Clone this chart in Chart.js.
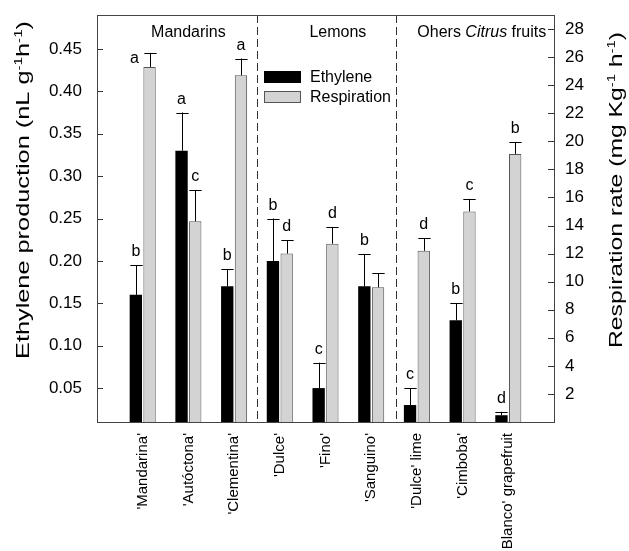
<!DOCTYPE html>
<html>
<head>
<meta charset="utf-8">
<script src="https://cdn.jsdelivr.net/npm/chart.js@4.4.1/dist/chart.umd.min.js"></script>
<style>
  html, body { margin: 0; padding: 0; background: #fff; }
  canvas { display: block; }
</style>
</head>
<body>
<canvas id="citrusChart" width="629" height="551"></canvas>
<script>
const cultivars = ["'Mandarina'", "'Autóctona'", "'Clementina'", "'Dulce'", "'Fino'", "'Sanguino'", "'Dulce' lime", "'Cimboba'", "Blanco' grapefruit"];
const ethylene = [0.16, 0.33, 0.17, 0.20, 0.05, 0.17, 0.03, 0.13, 0.018];
const ethyleneErr = [0.035, 0.045, 0.02, 0.05, 0.03, 0.038, 0.02, 0.02, 0.004];
const ethyleneLetters = ['b', 'a', 'b', 'b', 'c', 'b', 'c', 'b', 'd'];
const respiration = [25.3, 14.3, 24.7, 12.0, 12.7, 9.6, 12.2, 15.0, 19.1];
const respirationErr = [1.0, 2.2, 1.2, 0.95, 1.2, 1.0, 0.9, 0.9, 0.85];
const respirationLetters = ['a', 'c', 'a', 'd', 'd', '', 'd', 'c', 'b'];
const ethyleneTicks = [0.05, 0.10, 0.15, 0.20, 0.25, 0.30, 0.35, 0.40, 0.45];
const respirationTicks = [2, 4, 6, 8, 10, 12, 14, 16, 18, 20, 22, 24, 26, 28];
const groupNames = [['Mandarins'], ['Lemons'], ['Ohers ', 'Citrus', ' fruits']];

const FONT = "'Liberation Sans', Arial, sans-serif";

// empty slot at each end so the bars sit half a slot in from the frame
const labels = [''].concat(cultivars, ['']);
const pad = arr => [null].concat(arr, [null]);

// draws text made of runs, rotated to read bottom-to-top, stretched to a length
function drawRotatedRuns(ctx, runs, cx, cy, size, targetLen) {
  const supSize = size * 0.6;
  let total = 0;
  runs.forEach(r => {
    ctx.font = (r.sup ? supSize : size) + 'px ' + FONT;
    r.w = ctx.measureText(r.t).width;
    total += r.w;
  });
  ctx.save();
  ctx.translate(cx, cy);
  ctx.rotate(-Math.PI / 2);
  ctx.scale(targetLen / total, 1);
  ctx.fillStyle = '#000';
  ctx.textBaseline = 'alphabetic';
  ctx.textAlign = 'left';
  let x = -total / 2;
  const base = size * 0.3;
  runs.forEach(r => {
    ctx.font = (r.sup ? supSize : size) + 'px ' + FONT;
    ctx.fillText(r.t, x, r.sup ? base - size * 0.42 : base);
    x += r.w;
  });
  ctx.restore();
}

// drop the half-label padding Chart.js keeps at the ends of each axis
function noEndPadding(s) {
  s.paddingTop = 0;
  s.paddingBottom = 0;
  s.paddingLeft = 0;
  s.paddingRight = 0;
}

const decorPlugin = {
  id: 'decor',
  afterDatasetsDraw(chart, args, opts) {
    const ctx = chart.ctx;
    const area = chart.chartArea;
    const xs = chart.scales.x;
    const yL = chart.scales.y;
    const yR = chart.scales.y1;

    ctx.save();
    // group separators
    ctx.strokeStyle = '#333';
    ctx.lineWidth = 1;
    ctx.setLineDash([8, 4]);
    opts.separators.forEach(v => {
      const px = Math.round(xs.getPixelForValue(v)) + 0.5;
      ctx.beginPath();
      ctx.moveTo(px, area.top);
      ctx.lineTo(px, area.bottom);
      ctx.stroke();
    });
    ctx.setLineDash([]);

    // error bars and letters
    const errs = [ethyleneErr, respirationErr];
    const letters = [ethyleneLetters, respirationLetters];
    ctx.strokeStyle = '#000';
    ctx.fillStyle = '#000';
    ctx.font = '16px ' + FONT;
    ctx.textAlign = 'center';
    ctx.textBaseline = 'alphabetic';
    chart.data.datasets.forEach((ds, d) => {
      const meta = chart.getDatasetMeta(d);
      const scale = d === 0 ? yL : yR;
      meta.data.forEach((el, i) => {
        const v = ds.data[i];
        if (v === null) return;
        const k = i - 1;
        const top = scale.getPixelForValue(v + errs[d][k]);
        const x = Math.round(el.x) + 0.5;
        const hw = el.width / 2;
        ctx.beginPath();
        ctx.moveTo(x, el.y);
        ctx.lineTo(x, top);
        ctx.moveTo(x - hw, Math.round(top) + 0.5);
        ctx.lineTo(x + hw, Math.round(top) + 0.5);
        ctx.stroke();
        let lx = el.x, ly = top - 9;
        if (d === 1 && k === 0) { lx -= 15; ly = top + 10; } // sits beside the cap in the original
        ctx.fillText(letters[d][k], lx, ly);
      });
    });

    // ticks pointing inward
    ctx.beginPath();
    ethyleneTicks.forEach(v => {
      const py = Math.round(yL.getPixelForValue(v)) + 0.5;
      ctx.moveTo(area.left, py);
      ctx.lineTo(area.left + 6, py);
    });
    respirationTicks.forEach(v => {
      const py = Math.round(yR.getPixelForValue(v)) + 0.5;
      ctx.moveTo(area.right - 6, py);
      ctx.lineTo(area.right, py);
    });
    ctx.strokeStyle = '#333';
    ctx.stroke();

    // frame
    ctx.strokeStyle = '#444';
    ctx.strokeRect(Math.round(area.left) + 0.5, Math.round(area.top) + 0.5,
      Math.round(area.right - area.left), Math.round(area.bottom - area.top));

    // group names
    ctx.textAlign = 'left';
    groupNames.forEach((runs, g) => {
      let w = 0;
      runs.forEach((t, j) => {
        ctx.font = (j === 1 ? 'italic ' : '') + '16px ' + FONT;
        w += ctx.measureText(t).width;
      });
      let x = xs.getPixelForValue(opts.groupAt[g]) - w / 2;
      runs.forEach((t, j) => {
        ctx.font = (j === 1 ? 'italic ' : '') + '16px ' + FONT;
        ctx.fillText(t, x, area.top + 22);
        x += ctx.measureText(t).width;
      });
    });

    // legend
    ctx.font = '16px ' + FONT;
    ctx.textBaseline = 'middle';
    chart.data.datasets.forEach((ds, d) => {
      const lx = area.left + opts.legend.x;
      const ly = area.top + opts.legend.y + d * 20;
      ctx.fillStyle = ds.backgroundColor;
      ctx.fillRect(lx, ly, 37, 12);
      if (ds.borderWidth) {
        ctx.strokeStyle = ds.borderColor;
        ctx.strokeRect(lx + 0.5, ly + 0.5, 36, 11);
      }
      ctx.fillStyle = '#000';
      ctx.fillText(ds.label, lx + 46, ly + 6.5);
    });

    // axis titles
    drawRotatedRuns(ctx, [
      { t: 'Ethylene production (nL g' }, { t: '-1', sup: true }, { t: 'h' }, { t: '-1', sup: true }, { t: ')' }
    ], 24, 190, 18, 338);
    drawRotatedRuns(ctx, [
      { t: 'Respiration rate (mg Kg' }, { t: '-1', sup: true }, { t: ' h' }, { t: '-1', sup: true }, { t: ')' }
    ], 617, 190, 18, 316);
    ctx.restore();
  }
};

new Chart(document.getElementById('citrusChart'), {
  type: 'bar',
  data: {
    labels: labels,
    datasets: [
      {
        label: 'Ethylene',
        data: pad(ethylene),
        yAxisID: 'y',
        backgroundColor: '#000000',
        borderWidth: 0
      },
      {
        label: 'Respiration',
        data: pad(respiration),
        yAxisID: 'y1',
        backgroundColor: '#d3d3d3',
        borderColor: '#555555',
        borderWidth: 1
      }
    ]
  },
  options: {
    responsive: false,
    animation: false,
    categoryPercentage: 0.6,
    barPercentage: 0.9,
    layout: { padding: { top: 15, left: 0, right: 0, bottom: 0 } },
    plugins: {
      legend: { display: false },
      tooltip: { enabled: false },
      decor: {
        separators: [3.5, 6.55],
        groupAt: [2.0, 5.27, 8.42],
        legend: { x: 167, y: 56 }
      }
    },
    scales: {
      x: {
        type: 'category',
        offset: false,
        grid: { display: false, drawTicks: false },
        border: { display: false },
        ticks: {
          autoSkip: false,
          maxRotation: 90,
          minRotation: 90,
          padding: 11,
          color: '#000',
          font: { family: FONT, size: 15 }
        },
        afterFit: s => { s.height = 129; noEndPadding(s); }
      },
      y: {
        position: 'left',
        min: 0.01,
        max: 0.49,
        grid: { display: false, drawTicks: false },
        border: { display: false },
        afterBuildTicks: s => { s.ticks = ethyleneTicks.map(v => ({ value: v })); },
        ticks: {
          padding: 15,
          color: '#000',
          font: { family: FONT, size: 17 },
          callback: v => Number(v).toFixed(2)
        },
        afterFit: s => { s.width = 97; noEndPadding(s); }
      },
      y1: {
        position: 'right',
        min: 0,
        max: 29,
        grid: { display: false, drawTicks: false },
        border: { display: false },
        afterBuildTicks: s => { s.ticks = respirationTicks.map(v => ({ value: v })); },
        ticks: {
          padding: 11,
          color: '#000',
          font: { family: FONT, size: 17 }
        },
        afterFit: s => { s.width = 75; noEndPadding(s); }
      }
    }
  },
  plugins: [decorPlugin]
});
</script>
</body>
</html>
